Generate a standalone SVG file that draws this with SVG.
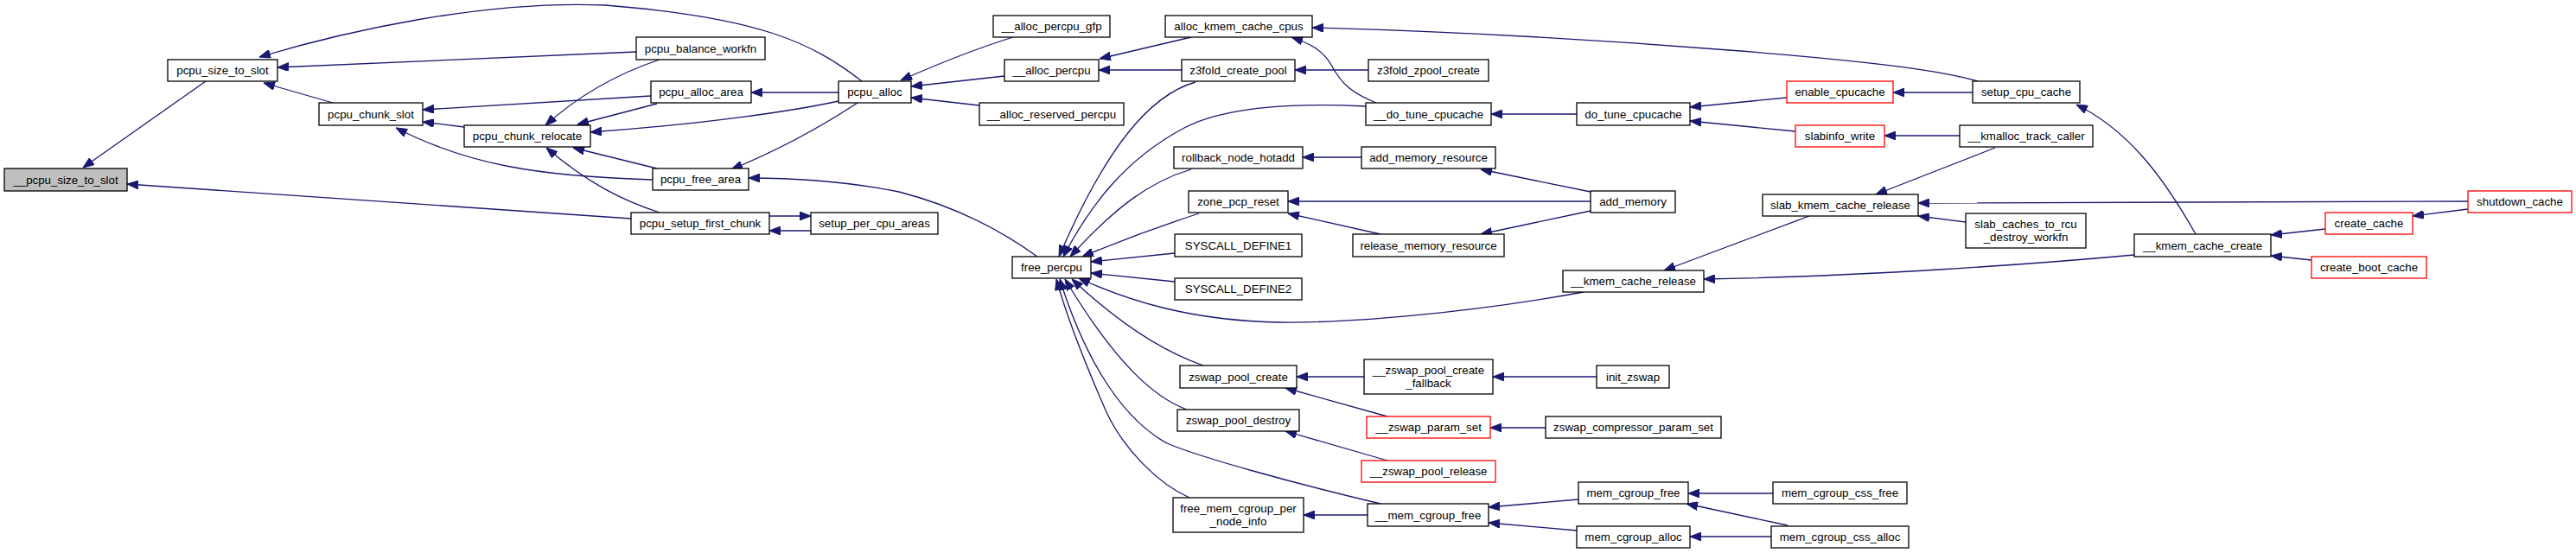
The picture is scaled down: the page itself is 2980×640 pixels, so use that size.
<svg xmlns="http://www.w3.org/2000/svg" width="2980" height="640" viewBox="0 0 2980 640">
<style>
.n rect{fill:#fff;stroke:#000;stroke-width:1.3}
.n.root rect{fill:#bfbfbf}
.n.red rect{stroke:#ff0000}
.n text{font-family:"Liberation Sans",Arial,sans-serif;font-size:13.3px;text-anchor:middle;fill:#000}
.e path{fill:none;stroke:#191970;stroke-width:1.3;marker-end:url(#ah)}
</style>
<defs>
<marker id="ah" viewBox="0 0 13 10" refX="13" refY="5" markerWidth="13" markerHeight="10" markerUnits="userSpaceOnUse" orient="auto">
<path d="M0,0 L13,5 L0,10 z" fill="#191970" stroke="#191970" stroke-width="1"/>
</marker>
</defs>
<rect width="2980" height="640" fill="#fff"/>
<g id="edges" class="e">
<path d="M238,94 L96,194"/>
<path d="M730,253 L147,213"/>
<path d="M997,94 C940,50 880,20 700,6 C560,0 400,36 300,66"/>
<path d="M736,60 L321,78"/>
<path d="M385,119 L305,96"/>
<path d="M753,111 L489,127"/>
<path d="M537,147 L489,141"/>
<path d="M755,208 C620,204 540,190 458,148"/>
<path d="M763,69 C715,85 670,110 631,145"/>
<path d="M760,120 L668,144"/>
<path d="M970,117 C920,128 820,143 683,153"/>
<path d="M760,195 L663,171"/>
<path d="M763,246 C720,232 680,212 632,171"/>
<path d="M970,107 L869,107"/>
<path d="M992,119 C960,140 910,170 846,196"/>
<path d="M1200,297 C1160,268 1110,240 1040,222 C980,210 920,206 866,206"/>
<path d="M938,267 L890,267"/>
<path d="M890,250 L938,250"/>
<path d="M1172,43 C1130,56 1085,74 1042,93"/>
<path d="M1162,88 L1054,100"/>
<path d="M1133,122 L1054,113"/>
<path d="M1378,43 L1272,68"/>
<path d="M1367,81 L1271,81"/>
<path d="M1583,81 L1498,81"/>
<path d="M2288,94 C2250,83 2180,72 2000,58 C1850,46 1700,37 1518,32"/>
<path d="M1592,119 C1565,108 1552,98 1540,75 C1530,58 1515,50 1494,43"/>
<path d="M1580,123 C1500,119 1420,122 1370,148 C1300,185 1260,240 1230,297"/>
<path d="M1383,95 C1330,110 1280,170 1225,297"/>
<path d="M1378,196 C1330,210 1290,240 1238,297"/>
<path d="M1387,247 C1350,259 1300,277 1252,297"/>
<path d="M1359,293 L1262,303"/>
<path d="M1359,326 L1262,316"/>
<path d="M1832,338 C1700,362 1560,374 1480,373 C1380,371 1310,350 1248,322"/>
<path d="M1392,423 C1340,405 1290,370 1240,323"/>
<path d="M1373,474 C1335,460 1290,420 1232,323"/>
<path d="M1597,583 C1500,560 1390,530 1350,513 C1290,480 1250,400 1226,323"/>
<path d="M1376,576 C1340,560 1300,520 1280,477 C1255,420 1235,370 1222,323"/>
<path d="M1824,132 L1725,132"/>
<path d="M2067,113 L1955,124"/>
<path d="M2077,152 L1955,140"/>
<path d="M2282,107 L2190,107"/>
<path d="M2267,157 L2180,157"/>
<path d="M1575,182 L1507,182"/>
<path d="M1840,222 L1713,196"/>
<path d="M1840,233 L1490,233"/>
<path d="M1597,271 L1490,247"/>
<path d="M1840,244 L1713,271"/>
<path d="M2093,250 L1925,313"/>
<path d="M2469,295 C2350,306 2150,320 1971,323"/>
<path d="M2308,171 L2170,225"/>
<path d="M2855,233 L2219,235"/>
<path d="M2274,257 L2219,250"/>
<path d="M2540,271 C2500,200 2460,150 2402,121"/>
<path d="M2690,265 L2627,272"/>
<path d="M2674,301 L2627,296"/>
<path d="M2855,242 L2791,250"/>
<path d="M1578,436 L1500,436"/>
<path d="M1605,482 L1487,449"/>
<path d="M1605,533 L1487,499"/>
<path d="M1847,436 L1727,436"/>
<path d="M1788,495 L1724,495"/>
<path d="M1582,596 L1508,596"/>
<path d="M1826,578 L1722,587"/>
<path d="M1824,614 L1722,605"/>
<path d="M2051,571 L1953,571"/>
<path d="M2068,608 L1951,583"/>
<path d="M2049,621 L1955,621"/>
</g>
<g id="n0" class="n root"><rect x="5" y="195" width="142" height="26"/><text x="76" y="212.5">__pcpu_size_to_slot</text></g>
<g id="n1" class="n"><rect x="194" y="69" width="127" height="25"/><text x="257.5" y="86">pcpu_size_to_slot</text></g>
<g id="n2" class="n"><rect x="369" y="119" width="120" height="26"/><text x="429" y="136.5">pcpu_chunk_slot</text></g>
<g id="n3" class="n"><rect x="736" y="43" width="149" height="26"/><text x="810.5" y="60.5">pcpu_balance_workfn</text></g>
<g id="n4" class="n"><rect x="753" y="94" width="116" height="25"/><text x="811" y="111">pcpu_alloc_area</text></g>
<g id="n5" class="n"><rect x="537" y="145" width="146" height="25"/><text x="610" y="162">pcpu_chunk_relocate</text></g>
<g id="n6" class="n"><rect x="755" y="195" width="111" height="25"/><text x="810.5" y="212">pcpu_free_area</text></g>
<g id="n7" class="n"><rect x="730" y="246" width="160" height="25"/><text x="810" y="263">pcpu_setup_first_chunk</text></g>
<g id="n8" class="n"><rect x="970" y="94" width="84" height="25"/><text x="1012" y="111">pcpu_alloc</text></g>
<g id="n9" class="n"><rect x="938" y="246" width="147" height="25"/><text x="1011.5" y="263">setup_per_cpu_areas</text></g>
<g id="n10" class="n"><rect x="1149" y="18" width="135" height="25"/><text x="1216.5" y="35">__alloc_percpu_gfp</text></g>
<g id="n11" class="n"><rect x="1162" y="69" width="109" height="25"/><text x="1216.5" y="86">__alloc_percpu</text></g>
<g id="n12" class="n"><rect x="1133" y="119" width="167" height="26"/><text x="1216.5" y="136.5">__alloc_reserved_percpu</text></g>
<g id="n13" class="n"><rect x="1171" y="297" width="91" height="25"/><text x="1216.5" y="314">free_percpu</text></g>
<g id="n14" class="n"><rect x="1348" y="18" width="170" height="25"/><text x="1433" y="35">alloc_kmem_cache_cpus</text></g>
<g id="n15" class="n"><rect x="1367" y="69" width="131" height="25"/><text x="1432.5" y="86">z3fold_create_pool</text></g>
<g id="n16" class="n"><rect x="1358" y="170" width="149" height="25"/><text x="1432.5" y="187">rollback_node_hotadd</text></g>
<g id="n17" class="n"><rect x="1375" y="221" width="115" height="25"/><text x="1432.5" y="238">zone_pcp_reset</text></g>
<g id="n18" class="n"><rect x="1359" y="271" width="147" height="26"/><text x="1432.5" y="288.5">SYSCALL_DEFINE1</text></g>
<g id="n19" class="n"><rect x="1359" y="322" width="147" height="25"/><text x="1432.5" y="339">SYSCALL_DEFINE2</text></g>
<g id="n20" class="n"><rect x="1365" y="423" width="135" height="26"/><text x="1432.5" y="440.5">zswap_pool_create</text></g>
<g id="n21" class="n"><rect x="1362" y="474" width="141" height="25"/><text x="1432.5" y="491">zswap_pool_destroy</text></g>
<g id="n22" class="n"><rect x="1357" y="576" width="151" height="40"/><text x="1432.5" y="593">free_mem_cgroup_per</text><text x="1432.5" y="608">_node_info</text></g>
<g id="n23" class="n"><rect x="1583" y="69" width="139" height="25"/><text x="1652.5" y="86">z3fold_zpool_create</text></g>
<g id="n24" class="n"><rect x="1580" y="119" width="145" height="26"/><text x="1652.5" y="136.5">__do_tune_cpucache</text></g>
<g id="n25" class="n"><rect x="1824" y="119" width="131" height="26"/><text x="1889.5" y="136.5">do_tune_cpucache</text></g>
<g id="n26" class="n"><rect x="1575" y="170" width="155" height="25"/><text x="1652.5" y="187">add_memory_resource</text></g>
<g id="n27" class="n"><rect x="1840" y="221" width="98" height="25"/><text x="1889" y="238">add_memory</text></g>
<g id="n28" class="n"><rect x="1565" y="271" width="175" height="26"/><text x="1652.5" y="288.5">release_memory_resource</text></g>
<g id="n29" class="n"><rect x="1808" y="313" width="163" height="25"/><text x="1889.5" y="330">__kmem_cache_release</text></g>
<g id="n30" class="n"><rect x="1578" y="416" width="149" height="40"/><text x="1652.5" y="433">__zswap_pool_create</text><text x="1652.5" y="448">_fallback</text></g>
<g id="n31" class="n"><rect x="1847" y="423" width="84" height="26"/><text x="1889" y="440.5">init_zswap</text></g>
<g id="n32" class="n red"><rect x="1581" y="482" width="143" height="25"/><text x="1652.5" y="499">__zswap_param_set</text></g>
<g id="n33" class="n"><rect x="1788" y="482" width="203" height="25"/><text x="1889.5" y="499">zswap_compressor_param_set</text></g>
<g id="n34" class="n red"><rect x="1575" y="533" width="155" height="25"/><text x="1652.5" y="550">__zswap_pool_release</text></g>
<g id="n35" class="n"><rect x="1826" y="558" width="127" height="25"/><text x="1889.5" y="575">mem_cgroup_free</text></g>
<g id="n36" class="n"><rect x="1582" y="583" width="140" height="26"/><text x="1652" y="600.5">__mem_cgroup_free</text></g>
<g id="n37" class="n"><rect x="1824" y="609" width="131" height="25"/><text x="1889.5" y="626">mem_cgroup_alloc</text></g>
<g id="n38" class="n red"><rect x="2067" y="94" width="123" height="25"/><text x="2128.5" y="111">enable_cpucache</text></g>
<g id="n39" class="n"><rect x="2282" y="94" width="124" height="25"/><text x="2344" y="111">setup_cpu_cache</text></g>
<g id="n40" class="n red"><rect x="2077" y="145" width="103" height="25"/><text x="2128.5" y="162">slabinfo_write</text></g>
<g id="n41" class="n"><rect x="2267" y="145" width="154" height="25"/><text x="2344" y="162">__kmalloc_track_caller</text></g>
<g id="n42" class="n"><rect x="2039" y="225" width="180" height="25"/><text x="2129" y="242">slab_kmem_cache_release</text></g>
<g id="n43" class="n"><rect x="2274" y="247" width="139" height="40"/><text x="2343.5" y="264">slab_caches_to_rcu</text><text x="2343.5" y="279">_destroy_workfn</text></g>
<g id="n44" class="n"><rect x="2469" y="271" width="158" height="26"/><text x="2548" y="288.5">__kmem_cache_create</text></g>
<g id="n45" class="n"><rect x="2051" y="558" width="155" height="25"/><text x="2128.5" y="575">mem_cgroup_css_free</text></g>
<g id="n46" class="n"><rect x="2049" y="609" width="159" height="25"/><text x="2128.5" y="626">mem_cgroup_css_alloc</text></g>
<g id="n47" class="n red"><rect x="2855" y="221" width="120" height="25"/><text x="2915" y="238">shutdown_cache</text></g>
<g id="n48" class="n red"><rect x="2690" y="246" width="101" height="25"/><text x="2740.5" y="263">create_cache</text></g>
<g id="n49" class="n red"><rect x="2674" y="297" width="133" height="25"/><text x="2740.5" y="314">create_boot_cache</text></g>
</svg>
